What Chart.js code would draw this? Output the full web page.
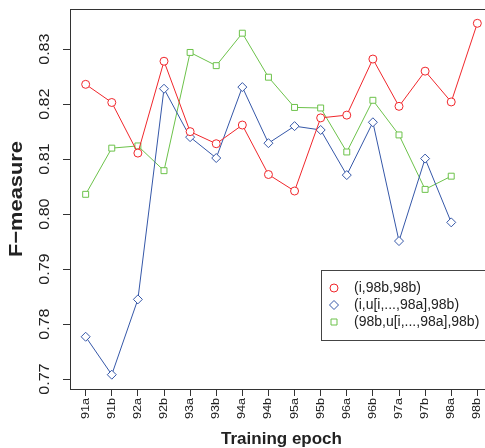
<!DOCTYPE html>
<html lang="en">
<head>
  <meta charset="UTF-8" />
  <title>F-measure by training epoch</title>
  <script src="https://cdn.jsdelivr.net/npm/chart.js"></script>
  <style>
    html, body {
      margin: 0;
      padding: 0;
      overflow: hidden;
      background: #fff;
    }
    canvas { display: block; }
  </style>
</head>
<body>

  <canvas id="fChart" width="500" height="448"></canvas>

  <script>
    // data
    const epochs = ["91a", "91b", "92a", "92b", "93a", "93b", "94a", "94b",
                    "95a", "95b", "96a", "96b", "97a", "97b", "98a", "98b"];
    const yTicks = [0.77, 0.78, 0.79, 0.80, 0.81, 0.82, 0.83];
    const yTickLabels = ["0.77", "0.78", "0.79", "0.80", "0.81", "0.82", "0.83"];
    const seriesNames = ["(i,98b,98b)", "(i,u[i,...,98a],98b)", "(98b,u[i,...,98a],98b)"];

    const redVals = [0.8236, 0.8203, 0.8111, 0.8278, 0.8150, 0.8128, 0.8162, 0.8072,
                     0.8042, 0.8175, 0.8180, 0.8282, 0.8196, 0.8260, 0.8204, 0.8347];
    const blueVals = [0.7777, 0.7708, 0.7845, 0.8228, 0.8140, 0.8102, 0.8231, 0.8129,
                      0.8160, 0.8153, 0.8071, 0.8167, 0.7951, 0.8101, 0.7985, null];
    const greenVals = [0.8036, 0.8120, 0.8124, 0.8079, 0.8294, 0.8270, 0.8329, 0.8249,
                       0.8194, 0.8193, 0.8113, 0.8207, 0.8144, 0.8045, 0.8069, null];

    const RED = '#f0262b';
    const BLUE = '#3557a8';
    const GREEN = '#6cc24a';
    const INK = '#222';
    const STRETCH = 1.15;   // rotated text in the figure is drawn a bit taller than wide

    const toPoints = vals => vals.map((v, i) => ({ x: i, y: v }));

    function makeSet(label, vals, color, style, radius) {
      return {
        label: label,
        data: toPoints(vals),
        borderColor: color,
        backgroundColor: '#fff',
        borderWidth: 1,
        pointStyle: style,
        pointRadius: radius,
        pointHoverRadius: radius,
        pointBorderWidth: 1,
        pointBorderColor: color,
        pointBackgroundColor: '#fff',
        tension: 0,
        spanGaps: false
      };
    }

    function rotText(ctx, text, x, y, font, align) {
      ctx.save();
      ctx.translate(x, y);
      ctx.rotate(-Math.PI / 2);
      ctx.scale(STRETCH, 1);
      ctx.font = font;
      ctx.textAlign = align;
      ctx.textBaseline = 'middle';
      ctx.fillText(text, 0, 0);
      ctx.restore();
    }

    function drawSymbol(ctx, style, x, y, color) {
      ctx.save();
      ctx.strokeStyle = color;
      ctx.lineWidth = 1;
      ctx.beginPath();
      if (style === 'circle') {
        ctx.arc(x, y, 4, 0, Math.PI * 2);
      } else if (style === 'rectRot') {
        ctx.moveTo(x - 4.5, y); ctx.lineTo(x, y - 4.5);
        ctx.lineTo(x + 4.5, y); ctx.lineTo(x, y + 4.5);
        ctx.closePath();
      } else {
        ctx.rect(x - 3, y - 3, 6, 6);
      }
      ctx.stroke();
      ctx.restore();
    }

    const decorPlugin = {
      id: 'decor',
      afterDraw(chart) {
        const ctx = chart.ctx;
        const a = chart.chartArea;
        const xs = chart.scales.x;
        const ys = chart.scales.y;

        // plot frame
        ctx.save();
        ctx.strokeStyle = '#333';
        ctx.lineWidth = 1;
        ctx.strokeRect(a.left + 0.5, a.top + 0.5, a.right - a.left, a.bottom - a.top);
        ctx.restore();

        ctx.save();
        ctx.fillStyle = INK;
        // y tick labels (vertical)
        yTicks.forEach((v, i) => {
          rotText(ctx, yTickLabels[i], 45, ys.getPixelForValue(v), '14px "Liberation Sans", Arial, sans-serif', 'center');
        });
        // x tick labels (vertical, reading upward)
        epochs.forEach((lab, i) => {
          rotText(ctx, lab, xs.getPixelForValue(i), 398, '11px "Liberation Sans", Arial, sans-serif', 'right');
        });
        // axis titles
        rotText(ctx, 'F\u2212measure', 17, (a.top + a.bottom) / 2, 'bold 19px "Liberation Sans", Arial, sans-serif', 'center');
        ctx.font = 'bold 17px "Liberation Sans", Arial, sans-serif';
        ctx.textAlign = 'center';
        ctx.textBaseline = 'middle';
        ctx.fillText('Training epoch', (a.left + a.right) / 2, 439);
        ctx.restore();

        // legend
        const styles = ['circle', 'rectRot', 'rect'];
        const colors = [RED, BLUE, GREEN];
        ctx.save();
        ctx.fillStyle = '#fff';
        ctx.fillRect(321, 270, 170, 70);
        ctx.strokeStyle = '#444';
        ctx.lineWidth = 1;
        ctx.strokeRect(321.5, 270.5, 170, 70);
        ctx.font = '14px "Liberation Sans", Arial, sans-serif';
        ctx.textAlign = 'left';
        ctx.textBaseline = 'middle';
        ctx.fillStyle = INK;
        seriesNames.forEach((name, i) => {
          const y = 288 + i * 17;
          drawSymbol(ctx, styles[i], 334, y, colors[i]);
          ctx.fillText(name, 354, y);
        });
        ctx.restore();
      }
    };

    const ctx = document.getElementById('fChart').getContext('2d');

    new Chart(ctx, {
      type: 'line',
      data: {
        datasets: [
          makeSet(seriesNames[0], redVals, RED, 'circle', 4),
          makeSet(seriesNames[1], blueVals, BLUE, 'rectRot', 4.5),
          makeSet(seriesNames[2], greenVals, GREEN, 'rect', 4.2)
        ]
      },
      options: {
        responsive: false,
        animation: false,
        layout: { padding: { top: 9, right: 7, bottom: 0, left: 0 } },
        plugins: {
          legend: { display: false },
          tooltip: { enabled: false }
        },
        scales: {
          x: {
            type: 'linear',
            min: -0.6,
            max: 15.6,
            afterBuildTicks: s => { s.ticks = epochs.map((_, i) => ({ value: i })); },
            afterFit: s => { s.height = 59; },
            ticks: { display: false },
            grid: { drawOnChartArea: false, drawTicks: true, tickLength: 7, color: '#333' },
            border: { display: true, color: '#333' }
          },
          y: {
            min: 0.7682,
            max: 0.8373,
            afterBuildTicks: s => { s.ticks = yTicks.map(v => ({ value: v })); },
            afterFit: s => { s.width = 70; },
            ticks: { display: false },
            grid: { drawOnChartArea: false, drawTicks: true, tickLength: 7, color: '#333' },
            border: { display: true, color: '#333' }
          }
        }
      },
      plugins: [decorPlugin]
    });
  </script>

</body>
</html>
